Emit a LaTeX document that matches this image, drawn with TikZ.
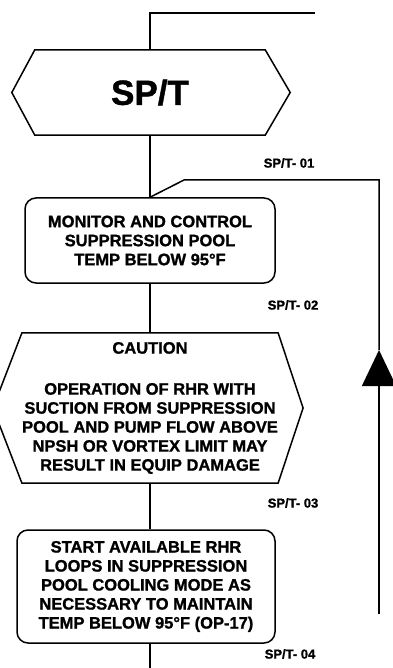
\documentclass[tikz,border=0pt]{standalone}
\usepackage{fontspec}
\setmainfont{Liberation Sans}[BoldFeatures={FakeBold=1.2}]
\usetikzlibrary{arrows.meta}
\begin{document}
\begin{tikzpicture}[x=1pt,y=-1pt,
  flow/.style={line width=1.5pt},
  hexbox/.style={minimum width=#1, inner sep=0pt, font=\bfseries\fontsize{16.5}{19}\selectfont, align=center},
  rbox/.style={draw, line width=1.5pt, rounded corners=11pt, inner sep=0pt, align=center, font=\bfseries\fontsize{16.5}{19}\selectfont},
  steplabel/.style={font=\bfseries\fontsize{13}{15}\selectfont}]
\useasboundingbox (0,0) rectangle (392,668);
% entry hexagon
\node[hexbox=230pt, minimum height=85pt, font=\bfseries\fontsize{35}{38}\selectfont] (sp) at (150,92.5) {SP/T};
\draw[flow] (sp.north west) -- (sp.north east) -- ([xshift=25pt]sp.east) -- (sp.south east) -- (sp.south west) -- ([xshift=-23pt]sp.west) -- cycle;
\coordinate (tr) at (315,13);
\coordinate (tc) at (150,13);
\draw[flow] (tr) -- (tc) -- (sp.north);
\node[steplabel] (l1) at (289,163) {SP/T- 01};
% monitor box
\node[rbox, minimum width=250pt, minimum height=85pt] (b2) at (150,240.5) {MONITOR AND CONTROL\\SUPPRESSION POOL\\TEMP BELOW 95°F};
\draw[flow] (sp.south) -- (b2.north);
\node[steplabel] (l2) at (293,305) {SP/T- 02};
% caution hexagon
\node[hexbox=236pt, minimum height=150pt] (c3) at (150,408) {CAUTION\\[22pt]OPERATION OF RHR WITH\\SUCTION FROM SUPPRESSION\\POOL AND PUMP FLOW ABOVE\\NPSH OR VORTEX LIMIT MAY\\RESULT IN EQUIP DAMAGE};
\draw[flow] (c3.north west) -- (c3.north east) -- ([xshift=25pt]c3.east) -- (c3.south east) -- (c3.south west) -- ([xshift=-29pt]c3.west) -- cycle;
\draw[flow] (b2.south) -- (c3.north);
\node[steplabel] (l3) at (293,503) {SP/T- 03};
% start box
\node[rbox, minimum width=258pt, minimum height=113pt] (b4) at (146,586.5) {START AVAILABLE RHR\\LOOPS IN SUPPRESSION\\POOL COOLING MODE AS\\NECESSARY TO MAINTAIN\\TEMP BELOW 95°F (OP-17)};
\draw[flow] (c3.south) -- (c3.south |- b4.north);
\node[steplabel] (l4) at (290,654) {SP/T- 04};
\coordinate (bot) at (150,668);
\draw[flow] (b4.south -| bot) -- (bot);
% feedback loop
\coordinate (fb) at (379,614);
\coordinate (fa) at (379,350);
\coordinate (fc) at (379,180);
\coordinate (fd) at (184,180);
\draw[flow, -{Triangle[length=36pt,width=34pt]}] (fb) -- (fa);
\draw[flow] (fa) -- (fc) -- (fd) -- (b2.north);
\end{tikzpicture}
\end{document}
